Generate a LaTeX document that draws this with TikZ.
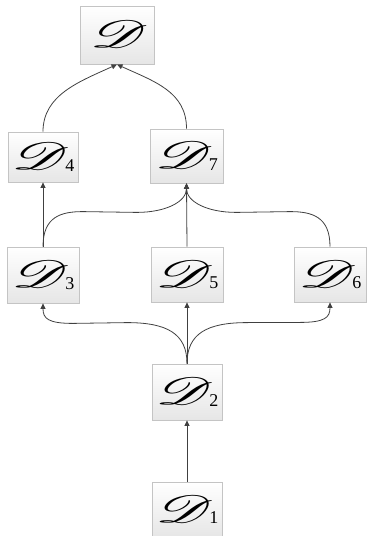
\documentclass[tikz,border=0pt]{standalone}
\usepackage{fontspec}
\setmainfont{Liberation Serif}
\usepackage{mathrsfs}
\usepackage{graphicx}
\usetikzlibrary{arrows.meta,calc,shadows}

\definecolor{linegray}{HTML}{404040}
\definecolor{boxline}{HTML}{C4C4C4}
\definecolor{boxbottom}{HTML}{E6E6E6}

% script letter with a roman index
\newcommand{\scr}[1]{\scalebox{3.2}[1.85]{$\mathscr{D}$}\kern-4pt\raisebox{-1.5pt}{\fontsize{18}{18}\selectfont #1}}

\tikzset{
  blk/.style={draw=boxline, line width=0.8pt, top color=white, bottom color=boxbottom,
    inner sep=0pt, font=\fontsize{22}{24}\selectfont,
    drop shadow={opacity=0.12, shadow xshift=1.2pt, shadow yshift=-1.2pt}},
  conn/.style={draw=linegray, line width=0.8pt, -{Triangle[width=5pt,length=5.5pt]}},
}

\begin{document}
\begin{tikzpicture}[x=1pt,y=-1pt]
\useasboundingbox (0,0) rectangle (367,536);

\node[blk, minimum width=74pt, minimum height=58pt] (n0) at (117,35) {\scr{}};
\node[blk, minimum width=70pt, minimum height=50pt] (n4) at (43,157) {\scr{4}};
\node[blk, minimum width=73pt, minimum height=54pt] (n7) at (186.5,156) {\scr{7}};
\node[blk, minimum width=72pt, minimum height=56pt] (n3) at (43,275) {\scr{3}};
\node[blk, minimum width=72pt, minimum height=55pt] (n5) at (187,274.5) {\scr{5}};
\node[blk, minimum width=72pt, minimum height=55pt] (n6) at (330,274.5) {\scr{6}};
\node[blk, minimum width=70pt, minimum height=56pt] (n2) at (187,392) {\scr{2}};
\node[blk, minimum width=70pt, minimum height=55pt] (n1) at (187,509.5) {\scr{1}};

% upper merge into the top block
\draw[conn] (n4.north) .. controls +(0,-37) and +(-37,17) .. (n0.south);
\draw[conn] (n7.north) .. controls +(0,-37) and +(37,17) .. (n0.south);

% middle level into 4 and 7
\draw[conn] (n3.north) -- (n4.south);
\draw[conn] (n5.north) -- (n7.south);
\draw[conn] (n3.north) .. controls +(0,-30) and +(-22,0) .. ($(n3.north)+(40,-35)$)
  -- ($(n7.south)+(-50,29)$) .. controls +(30,0) and +(0,18) .. (n7.south);
\draw[conn] (n6.north) .. controls +(0,-30) and +(22,0) .. ($(n6.north)+(-40,-35)$)
  -- ($(n7.south)+(50,29)$) .. controls +(-30,0) and +(0,18) .. (n7.south);

% fan-out from block 2
\draw[conn] (n2.north) -- (n5.south);
\draw[conn] (n2.north) .. controls +(0,-30) and +(40,0) .. ($(n2.north)+(-60,-41)$)
  -- ($(n3.south)+(30,20)$) .. controls +(-25,0) and +(0,15) .. (n3.south);
\draw[conn] (n2.north) .. controls +(0,-30) and +(-40,0) .. ($(n2.north)+(60,-41)$)
  -- ($(n6.south)+(-30,20)$) .. controls +(25,0) and +(0,15) .. (n6.south);

\draw[conn] (n1.north) -- (n2.south);
\end{tikzpicture}
\end{document}
